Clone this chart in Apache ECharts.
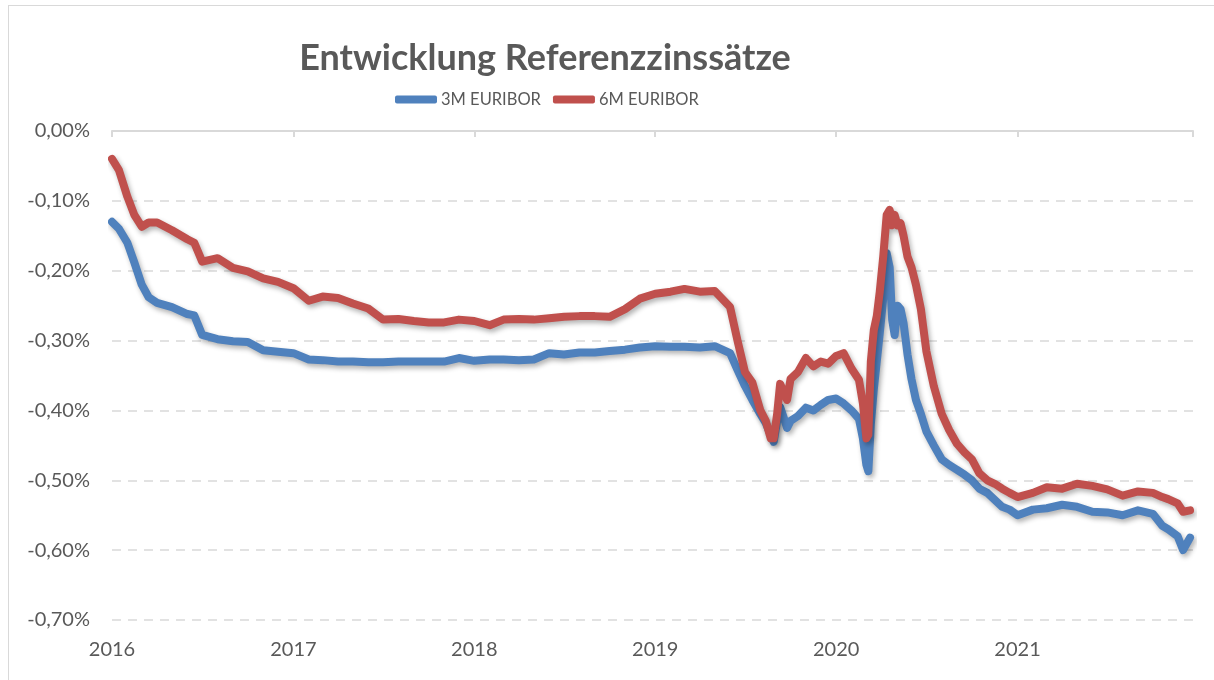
<!DOCTYPE html>
<html>
<head>
<meta charset="utf-8">
<title>Entwicklung Referenzzinssätze</title>
<script src="https://cdn.jsdelivr.net/npm/echarts@6/dist/echarts.min.js"></script>
<style>
  html, body { margin: 0; padding: 0; background: #fff; }
  #frame { position: absolute; left: 8px; top: 5px; width: 1220px; height: 690px;
           border-left: 1px solid #d9d9d9; border-top: 1px solid #d9d9d9; }
  #chart { position: absolute; left: 0; top: 0; width: 1214px; height: 680px; }
</style>
</head>
<body>
<div id="frame"></div>
<div id="chart"></div>
<script>
// Stichtage (Datum der Ablesung)
const dates = [
  '2016-01-01','2016-01-15','2016-02-01','2016-02-15','2016-03-01','2016-03-15','2016-04-01','2016-05-01',
  '2016-06-01','2016-06-15','2016-07-01','2016-08-01','2016-09-01','2016-10-01','2016-11-01','2016-12-01',
  '2017-01-01','2017-02-01','2017-03-01','2017-04-01','2017-05-01','2017-06-01','2017-07-01','2017-08-01',
  '2017-09-01','2017-10-01','2017-11-01','2017-12-01',
  '2018-01-01','2018-02-01','2018-03-01','2018-04-01','2018-05-01','2018-06-01','2018-07-01','2018-08-01',
  '2018-09-01','2018-10-01','2018-11-01','2018-12-01',
  '2019-01-01','2019-02-01','2019-03-01','2019-04-01','2019-05-01','2019-06-01','2019-06-16','2019-07-01',
  '2019-07-16','2019-08-01','2019-08-12','2019-08-22','2019-08-28','2019-09-04','2019-09-10','2019-09-18',
  '2019-09-24','2019-10-01','2019-10-16','2019-11-01','2019-11-16','2019-12-01','2019-12-16',
  '2020-01-01','2020-01-16','2020-02-01','2020-02-16','2020-02-24','2020-03-02','2020-03-06','2020-03-11',
  '2020-03-17','2020-03-23','2020-03-29','2020-04-05','2020-04-12','2020-04-18','2020-04-23','2020-04-28',
  '2020-05-04','2020-05-10','2020-05-16','2020-05-24','2020-06-01','2020-06-10','2020-06-20','2020-07-01',
  '2020-07-16','2020-08-01','2020-08-16','2020-09-01','2020-09-16','2020-10-01','2020-10-16','2020-11-01',
  '2020-11-16','2020-12-01','2020-12-16',
  '2021-01-01','2021-02-01','2021-03-01','2021-04-01','2021-05-01','2021-06-01','2021-07-01','2021-08-01',
  '2021-09-01','2021-10-01','2021-10-20','2021-11-01','2021-11-20','2021-12-01','2021-12-15'
];

// 3M EURIBOR in %
const euribor3m = [
  -0.130,-0.140,-0.160,-0.188,-0.220,-0.238,-0.246,-0.252,
  -0.262,-0.264,-0.292,-0.298,-0.301,-0.302,-0.314,-0.316,
  -0.318,-0.327,-0.328,-0.330,-0.330,-0.331,-0.331,-0.330,
  -0.330,-0.330,-0.330,-0.325,
  -0.329,-0.327,-0.327,-0.328,-0.327,-0.318,-0.320,-0.317,
  -0.317,-0.315,-0.313,-0.310,
  -0.308,-0.309,-0.309,-0.310,-0.308,-0.318,-0.342,-0.365,
  -0.385,-0.405,-0.418,-0.435,-0.445,-0.415,-0.395,-0.412,
  -0.425,-0.415,-0.408,-0.396,-0.400,-0.392,-0.385,
  -0.383,-0.390,-0.400,-0.412,-0.440,-0.478,-0.487,-0.420,
  -0.370,-0.330,-0.290,-0.240,-0.175,-0.195,-0.270,-0.292,
  -0.250,-0.255,-0.275,-0.320,-0.355,-0.385,-0.405,-0.430,
  -0.450,-0.470,-0.478,-0.485,-0.492,-0.500,-0.512,-0.518,
  -0.528,-0.538,-0.542,
  -0.550,-0.542,-0.540,-0.535,-0.538,-0.545,-0.546,-0.550,
  -0.543,-0.548,-0.565,-0.570,-0.580,-0.600,-0.582
];

// 6M EURIBOR in %
const euribor6m = [
  -0.040,-0.056,-0.094,-0.120,-0.137,-0.131,-0.131,-0.142,
  -0.155,-0.160,-0.187,-0.182,-0.196,-0.201,-0.211,-0.216,
  -0.225,-0.243,-0.237,-0.239,-0.247,-0.254,-0.270,-0.269,
  -0.272,-0.274,-0.274,-0.270,
  -0.272,-0.278,-0.270,-0.269,-0.270,-0.268,-0.266,-0.265,
  -0.265,-0.266,-0.255,-0.240,
  -0.233,-0.230,-0.226,-0.230,-0.229,-0.252,-0.300,-0.345,
  -0.360,-0.400,-0.415,-0.440,-0.440,-0.405,-0.362,-0.375,
  -0.385,-0.355,-0.345,-0.325,-0.337,-0.330,-0.333,
  -0.322,-0.318,-0.340,-0.356,-0.390,-0.440,-0.435,-0.330,
  -0.285,-0.265,-0.230,-0.180,-0.120,-0.113,-0.135,-0.120,
  -0.135,-0.132,-0.150,-0.180,-0.195,-0.220,-0.255,-0.315,
  -0.365,-0.405,-0.428,-0.448,-0.460,-0.470,-0.490,-0.500,
  -0.505,-0.512,-0.518,
  -0.524,-0.518,-0.510,-0.512,-0.505,-0.508,-0.513,-0.522,
  -0.516,-0.518,-0.524,-0.527,-0.533,-0.545,-0.543
];

const yTicks = [0, -0.1, -0.2, -0.3, -0.4, -0.5, -0.6, -0.7];

const textColor = '#595959';
const fontFamily = 'Lato, "Open Sans", sans-serif';

const chart = echarts.init(document.getElementById('chart'));

const pairs = (vals) => dates.map((d, i) => [d, vals[i]]);

const option = {
  animation: false,
  title: {
    text: 'Entwicklung Referenzzinssätze',
    left: 545,
    top: 40,
    padding: 0,
    textAlign: 'center',
    textStyle: { color: textColor, fontFamily: fontFamily, fontWeight: 'bold', fontSize: 36 }
  },
  legend: {
    left: 395,
    top: 91,
    padding: 0,
    itemWidth: 42,
    itemHeight: 8,
    itemGap: 12,
    icon: 'roundRect',
    textStyle: { color: textColor, fontFamily: fontFamily, fontSize: 16.5, padding: [0, 0, 0, -1] },
    data: ['3M EURIBOR', '6M EURIBOR']
  },
  grid: { left: 112, right: 21, top: 131, bottom: 60, containLabel: false },
  xAxis: [
    {
      type: 'time',
      position: 'bottom',
      min: '2016-01-01',
      max: '2021-12-21',
      minInterval: 365 * 24 * 3600 * 1000,
      splitNumber: 6,
      axisLine: { show: false },
      axisTick: { show: false },
      splitLine: { show: false },
      axisLabel: {
        margin: 20,
        color: textColor,
        fontFamily: fontFamily,
        fontSize: 20,
        showMaxLabel: false,
        formatter: (v) => String(new Date(v).getFullYear())
      }
    },
    {
      type: 'time',
      position: 'top',
      min: '2016-01-01',
      max: '2021-12-21',
      minInterval: 365 * 24 * 3600 * 1000,
      splitNumber: 6,
      axisLine: { show: true, lineStyle: { color: '#d9d9d9', width: 2 } },
      axisTick: { show: true, inside: true, length: 6, lineStyle: { color: '#d9d9d9', width: 2 } },
      axisLabel: { show: false },
      splitLine: { show: false }
    }
  ],
  yAxis: {
    type: 'value',
    min: yTicks[yTicks.length - 1],
    max: yTicks[0],
    interval: 0.1,
    axisLine: { show: false },
    axisTick: { show: false },
    axisLabel: {
      margin: 22,
      color: textColor,
      fontFamily: fontFamily,
      fontSize: 20,
      formatter: (v) => v.toFixed(2).replace('.', ',') + '%'
    },
    splitLine: { lineStyle: { color: '#d9d9d9', width: 1.5, type: [9, 7] } }
  },
  series: [
    {
      name: '3M EURIBOR',
      type: 'line',
      xAxisIndex: 0,
      showSymbol: false,
      symbol: 'none',
      color: '#4f81bd',
      lineStyle: { width: 8, cap: 'round', join: 'round',
        shadowColor: 'rgba(0,0,0,0.3)', shadowBlur: 5, shadowOffsetX: 2, shadowOffsetY: 3 },
      data: pairs(euribor3m)
    },
    {
      name: '6M EURIBOR',
      type: 'line',
      xAxisIndex: 0,
      showSymbol: false,
      symbol: 'none',
      color: '#c0504d',
      lineStyle: { width: 8, cap: 'round', join: 'round',
        shadowColor: 'rgba(0,0,0,0.3)', shadowBlur: 5, shadowOffsetX: 2, shadowOffsetY: 3 },
      data: pairs(euribor6m)
    }
  ]
};

chart.setOption(option);
</script>
</body>
</html>
